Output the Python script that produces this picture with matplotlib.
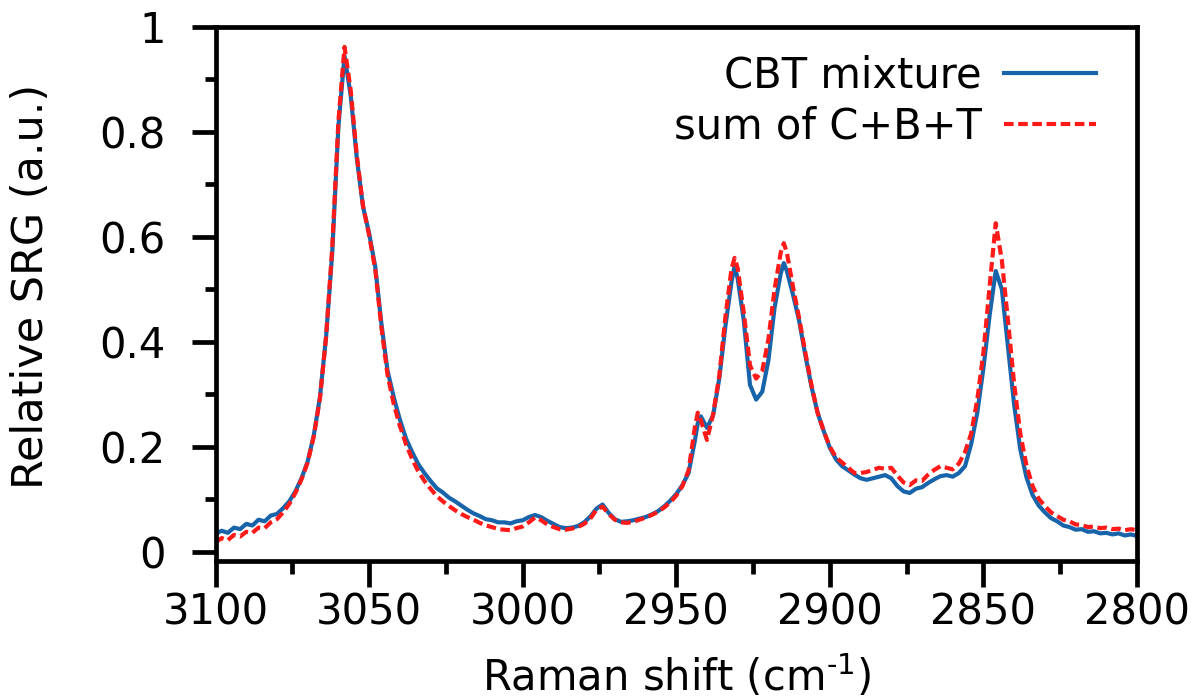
import matplotlib
matplotlib.use("Agg")
import matplotlib.pyplot as plt
from matplotlib.ticker import MultipleLocator, FuncFormatter

# Raman shift axis (cm^-1)
shift = [
    3100, 3098, 3096, 3094, 3092, 3090, 3088, 3086, 3084, 3082,
    3080, 3078, 3076, 3074, 3072, 3070, 3068, 3066, 3064, 3062,
    3060, 3058, 3056, 3054, 3052, 3050, 3048, 3046, 3044, 3042,
    3040, 3038, 3036, 3034, 3032, 3030, 3028, 3026, 3024, 3022,
    3020, 3018, 3016, 3014, 3012, 3010, 3008, 3006, 3004, 3002,
    3000, 2998, 2996, 2994, 2992, 2990, 2988, 2986, 2984, 2982,
    2980, 2978, 2976, 2974, 2972, 2970, 2968, 2966, 2964, 2962,
    2960, 2958, 2956, 2954, 2952, 2950, 2948, 2946, 2944, 2943,
    2942, 2940, 2938, 2936, 2934, 2932, 2931, 2930, 2928, 2926,
    2924, 2922, 2920, 2918, 2916, 2915, 2914, 2912, 2910, 2908,
    2906, 2904, 2902, 2900, 2898, 2896, 2894, 2892, 2890, 2888,
    2886, 2884, 2882, 2880, 2878, 2876, 2874, 2872, 2870, 2868,
    2866, 2864, 2862, 2860, 2858, 2856, 2854, 2852, 2850, 2848,
    2846, 2844, 2842, 2840, 2838, 2836, 2834, 2832, 2830, 2828,
    2826, 2824, 2822, 2820, 2818, 2816, 2814, 2812, 2810, 2808,
    2806, 2804, 2802, 2800,
]

# Measured SRG spectrum of the C/B/T mixture
cbt_mixture = [
    0.034, 0.040, 0.036, 0.046, 0.043, 0.053, 0.050, 0.061, 0.058, 0.069,
    0.072, 0.083, 0.096, 0.115, 0.140, 0.172, 0.222, 0.295, 0.410, 0.570,
    0.810, 0.945, 0.870, 0.750, 0.658, 0.607, 0.543, 0.435, 0.345, 0.295,
    0.252, 0.216, 0.190, 0.167, 0.150, 0.135, 0.121, 0.113, 0.103, 0.096,
    0.088, 0.080, 0.073, 0.068, 0.062, 0.060, 0.056, 0.056, 0.054, 0.058,
    0.060, 0.066, 0.070, 0.066, 0.059, 0.053, 0.047, 0.045, 0.046, 0.049,
    0.056, 0.067, 0.082, 0.090, 0.074, 0.062, 0.057, 0.058, 0.060, 0.063,
    0.066, 0.071, 0.077, 0.086, 0.097, 0.110, 0.127, 0.150, 0.210, 0.245,
    0.258, 0.236, 0.260, 0.330, 0.430, 0.515, 0.545, 0.520, 0.440, 0.318,
    0.290, 0.305, 0.365, 0.465, 0.530, 0.550, 0.535, 0.490, 0.440, 0.375,
    0.315, 0.265, 0.230, 0.198, 0.176, 0.163, 0.155, 0.147, 0.140, 0.137,
    0.140, 0.143, 0.146, 0.140, 0.125, 0.115, 0.112, 0.120, 0.123, 0.131,
    0.138, 0.144, 0.146, 0.143, 0.150, 0.163, 0.205, 0.265, 0.350, 0.450,
    0.535, 0.500, 0.390, 0.280, 0.195, 0.142, 0.108, 0.088, 0.075, 0.064,
    0.058, 0.050, 0.047, 0.042, 0.043, 0.038, 0.039, 0.035, 0.036, 0.033,
    0.035, 0.031, 0.033, 0.030,
]

# Sum of the individual C, B and T spectra
sum_cbt = [
    0.018, 0.026, 0.022, 0.032, 0.029, 0.038, 0.036, 0.046, 0.045, 0.056,
    0.062, 0.075, 0.091, 0.112, 0.138, 0.170, 0.220, 0.292, 0.410, 0.580,
    0.820, 0.962, 0.880, 0.755, 0.660, 0.603, 0.538, 0.428, 0.337, 0.282,
    0.240, 0.205, 0.177, 0.153, 0.135, 0.120, 0.106, 0.096, 0.087, 0.079,
    0.072, 0.066, 0.061, 0.055, 0.050, 0.047, 0.043, 0.042, 0.041, 0.045,
    0.048, 0.056, 0.065, 0.060, 0.052, 0.047, 0.043, 0.042, 0.044, 0.047,
    0.053, 0.063, 0.080, 0.086, 0.072, 0.061, 0.056, 0.055, 0.057, 0.061,
    0.065, 0.070, 0.076, 0.084, 0.094, 0.107, 0.125, 0.155, 0.235, 0.265,
    0.250, 0.213, 0.262, 0.335, 0.448, 0.540, 0.560, 0.540, 0.455, 0.355,
    0.330, 0.345, 0.405, 0.500, 0.570, 0.588, 0.570, 0.505, 0.445, 0.380,
    0.318, 0.265, 0.230, 0.200, 0.180, 0.170, 0.160, 0.150, 0.150, 0.152,
    0.156, 0.160, 0.158, 0.160, 0.145, 0.132, 0.127, 0.136, 0.135, 0.147,
    0.156, 0.163, 0.160, 0.157, 0.168, 0.190, 0.225, 0.290, 0.380, 0.505,
    0.626, 0.555, 0.440, 0.320, 0.225, 0.165, 0.125, 0.101, 0.087, 0.075,
    0.068, 0.061, 0.058, 0.052, 0.051, 0.047, 0.048, 0.045, 0.046, 0.043,
    0.044, 0.041, 0.043, 0.041,
]

series_labels = ["CBT mixture", "sum of C+B+T"]
x_ticks = [3100, 3050, 3000, 2950, 2900, 2850, 2800]
y_ticks = [0, 0.2, 0.4, 0.6, 0.8, 1]

plt.rcParams["font.family"] = ["DejaVu Sans"]
plt.rcParams["font.size"] = 30

fig = plt.figure(figsize=(11.98, 6.99), dpi=100)
ax = fig.add_axes([0.1799, 0.1974, 0.7692, 0.7640])

ax.plot(shift, cbt_mixture, color="#1764ab", lw=3.0, label=series_labels[0],
        solid_joinstyle="round")
ax.plot(shift, sum_cbt, color="#ff1a1a", lw=3.0, dashes=(2.3, 1.1),
        label=series_labels[1])

ax.set_xlim(3100, 2800)
ax.set_ylim(-0.0177, 1.0)
ax.set_xticks(x_ticks)
ax.set_yticks(y_ticks)
ax.xaxis.set_minor_locator(MultipleLocator(25))
ax.yaxis.set_minor_locator(MultipleLocator(0.1))
ax.yaxis.set_major_formatter(FuncFormatter(lambda v, p: f"{v:g}"))

for side in ["left", "right", "top", "bottom"]:
    ax.spines[side].set_linewidth(3.4)
ax.tick_params(axis="both", which="both", direction="out", width=3.4,
               top=False, right=False)
ax.tick_params(axis="x", which="major", length=19, pad=3)
ax.tick_params(axis="x", which="minor", length=9)
ax.tick_params(axis="y", which="major", length=17, pad=19)
ax.tick_params(axis="y", which="minor", length=8)

ax.set_xlabel(r"Raman shift (cm$^{\text{-}1}$)", labelpad=14, fontsize=30)
ax.set_ylabel("Relative SRG (a.u.)", fontsize=31)
ax.yaxis.set_label_coords(-0.177, 0.515)

ax.legend(loc="upper right", bbox_to_anchor=(0.9555, 0.948), frameon=False,
          markerfirst=False, handlelength=2.2, handletextpad=0.55,
          borderpad=0, borderaxespad=0, labelspacing=0.2, fontsize=30)

fig.savefig("out.png", dpi=100)
